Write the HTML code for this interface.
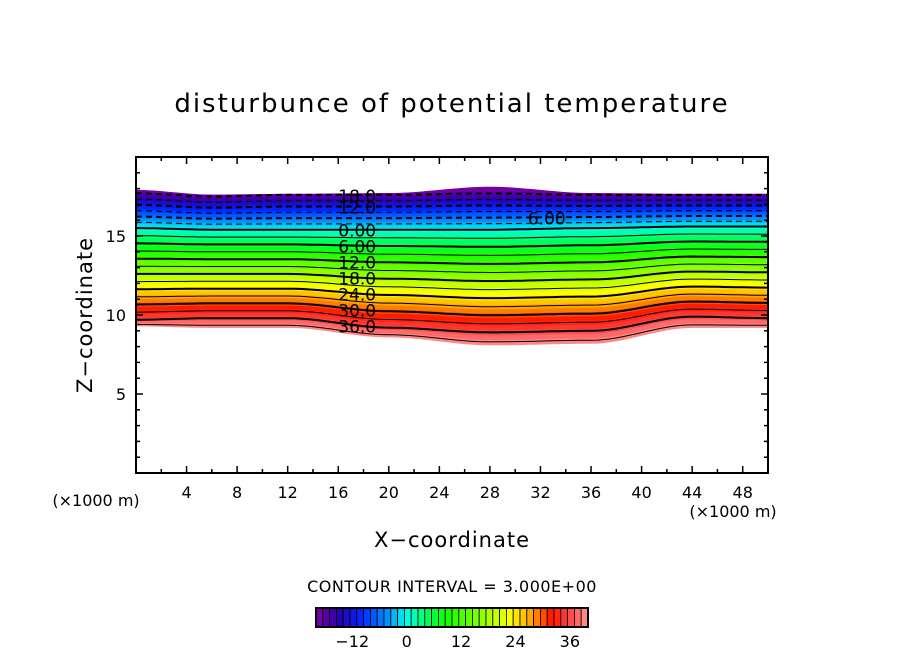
<!DOCTYPE html>
<html><head><meta charset="utf-8"><style>
body{margin:0;background:#fff;}
svg text{font-family:"DejaVu Sans","Liberation Sans",sans-serif;}
</style></head><body>
<svg id="chart" width="904" height="654" viewBox="0 0 904 654" xmlns="http://www.w3.org/2000/svg">
<rect width="904" height="654" fill="#fff"/>
<text x="452" y="112" text-anchor="middle" font-size="26" fill="#000" letter-spacing="2">disturbunce of potential temperature</text>
<g id="field"></g>
<g id="lines"></g>
<g id="labels"></g>
<g id="axes"></g>
<text x="96" y="506" text-anchor="middle" font-size="16">(×1000 m)</text>
<text x="733" y="517" text-anchor="middle" font-size="16">(×1000 m)</text>
<text x="452" y="547" text-anchor="middle" font-size="21" letter-spacing="1">X−coordinate</text>
<text x="92" y="315" text-anchor="middle" font-size="21" letter-spacing="1" transform="rotate(-90 92 315)">Z−coordinate</text>
<text x="452" y="592" text-anchor="middle" font-size="16" letter-spacing="0.5">CONTOUR INTERVAL = 3.000E+00</text>
<g id="cbar"></g>
</svg>
<script>
// data (x in 1000 m, z in 1000 m)
const xs       = [0,   6,   12,  20,  28,  36,  44,  50];
const zBottom  = [9.3, 9.2, 9.2, 8.6, 8.1, 8.2, 9.2, 9.2];   // theta' = 40 edge
const z36      = [9.7, 9.8, 9.8, 9.2, 8.9, 9.0, 9.9, 9.8];
const z0       = [15.5,15.4,15.4,15.4,15.4,15.5,15.6,15.6];
const zM18     = [17.7,17.5,17.6,17.6,17.7,17.6,17.6,17.6];
const zTop     = [17.9,17.6,17.65,17.7,18.1,17.7,17.65,17.65]; // theta' = -20 edge
const anchorVals = [40,36,0,-18,-20];
const levels = [-18,-15,-12,-9,-6,-3,0,3,6,9,12,15,18,21,24,27,30,33,36,39];
const labelVals = [-18,-12,0,6,12,18,24,30,36];
const xTicks = [4,8,12,16,20,24,28,32,36,40,44,48];
const yTicks = [5,10,15];
const cbTicks = [-12,0,12,24,36];

const X0=136,X1=768,Y0=473,Y1=157,XMAX=50,ZMAX=20;
const sx=x=>X0+(X1-X0)*x/XMAX, sz=z=>Y0-(Y0-Y1)*z/ZMAX;
const NS="http://www.w3.org/2000/svg";
function mk(tag,attrs,parent){const e=document.createElementNS(NS,tag);for(const k in attrs)e.setAttribute(k,attrs[k]);parent.appendChild(e);return e;}
function interp(arr,x){for(let i=0;i<xs.length-1;i++){if(x<=xs[i+1]){let t=(x-xs[i])/(xs[i+1]-xs[i]);t=t*t*(3-2*t);return arr[i]+t*(arr[i+1]-arr[i]);}}return arr[arr.length-1];}
function zOf(v,x){const hs=[zBottom,z36,z0,zM18,zTop].map(a=>interp(a,x));
  for(let i=0;i<4;i++){const a=anchorVals[i],b=anchorVals[i+1];if(v<=a&&v>=b){return hs[i]+(hs[i+1]-hs[i])*(a-v)/(a-b);}}
  return v>40?hs[0]:hs[4];}
const stops=[[-20,[128,0,160]],[-15,[40,0,170]],[-10,[0,40,255]],[-4,[0,150,255]],[0,[0,255,230]],[5,[0,255,80]],[9,[20,255,0]],[17,[150,255,0]],[23,[255,255,0]],[28,[255,150,0]],[32,[255,20,0]],[36,[255,70,70]],[40,[255,150,150]]];
function col(v){for(let i=0;i<stops.length-1;i++){const[a,ca]=stops[i],[b,cb]=stops[i+1];if(v<=b){const t=Math.max(0,(v-a)/(b-a));return`rgb(${ca.map((c,j)=>Math.round(c+t*(cb[j]-c))).join(',')})`;}}return'rgb(255,150,150)';}
const samp=[];for(let x=0;x<=50.001;x+=0.5)samp.push(x);
const field=document.getElementById('field');
for(let v=-20;v<40;v+=1.5){
  const lo=samp.map(x=>sx(x).toFixed(1)+','+sz(zOf(v,x)).toFixed(1));
  const hi=samp.slice().reverse().map(x=>sx(x).toFixed(1)+','+sz(zOf(v+1.5,x)).toFixed(1));
  const p=mk('polygon',{points:lo.concat(hi).join(' '),fill:col(v+0.75),stroke:col(v+0.75),'stroke-width':0.6},field);
  
  
}
const lines=document.getElementById('lines');
levels.forEach(v=>{
  const pts=samp.map(x=>sx(x).toFixed(1)+','+sz(zOf(v,x)).toFixed(1)).join(' ');
  const a={points:pts,fill:'none',stroke:'#000','stroke-width':(v%6===0)?2:1};
  if(v<0)a['stroke-dasharray']='6,4';
  const l=mk('polyline',a,lines);
  
  
});
const labels=document.getElementById('labels');
labelVals.forEach(v=>{
  const x=17.5;const t=mk('text',{x:sx(x),y:sz(zOf(v,x))+7,'text-anchor':'middle','font-size':17,fill:'#000'},labels);
  t.textContent=(Math.abs(v)<10?Math.abs(v).toFixed(2):Math.abs(v).toFixed(1));
  
  
});
{const x=32.5;const t=mk('text',{x:sx(x),y:sz(zOf(-6,x))+7,'text-anchor':'middle','font-size':17,fill:'#000'},labels);t.textContent='6.00';

}
const axes=document.getElementById('axes');
const fr=mk('rect',{x:X0,y:Y1,width:X1-X0,height:Y0-Y1,fill:'none',stroke:'#000','stroke-width':2},axes);


for(let x=2;x<50;x+=2){const L=(x%4===0)?7:4;
  mk('line',{x1:sx(x),x2:sx(x),y1:Y0,y2:Y0-L,stroke:'#000','stroke-width':1.5},axes);
  mk('line',{x1:sx(x),x2:sx(x),y1:Y1,y2:Y1+L,stroke:'#000','stroke-width':1.5},axes);}
for(let z=1;z<20;z++){const L=(z%5===0)?7:4;
  mk('line',{x1:X0,x2:X0+L,y1:sz(z),y2:sz(z),stroke:'#000','stroke-width':1.5},axes);
  mk('line',{x1:X1,x2:X1-L,y1:sz(z),y2:sz(z),stroke:'#000','stroke-width':1.5},axes);}
xTicks.forEach(x=>{const t=mk('text',{x:sx(x),y:498,'text-anchor':'middle','font-size':16},axes);t.textContent=x;

});
yTicks.forEach(z=>{const t=mk('text',{x:126,y:sz(z)+6,'text-anchor':'end','font-size':16},axes);t.textContent=z;

});
const cb=document.getElementById('cbar');
const CX0=316,CX1=588,CY=608,CH=19,cx=v=>CX0+(CX1-CX0)*(v+20)/60;
for(let v=-20;v<40;v+=1.5){
  const r=mk('rect',{x:cx(v),y:CY,width:cx(v+1.5)-cx(v),height:CH,fill:col(v+0.75),stroke:'#000','stroke-width':0.8},cb);
  
  
}
mk('rect',{x:CX0,y:CY,width:CX1-CX0,height:CH,fill:'none',stroke:'#000','stroke-width':2},cb);
cbTicks.forEach(v=>{const t=mk('text',{x:cx(v),y:647,'text-anchor':'middle','font-size':16},cb);t.textContent=v<0?'−'+Math.abs(v):v;

});
</script>
</body></html>
